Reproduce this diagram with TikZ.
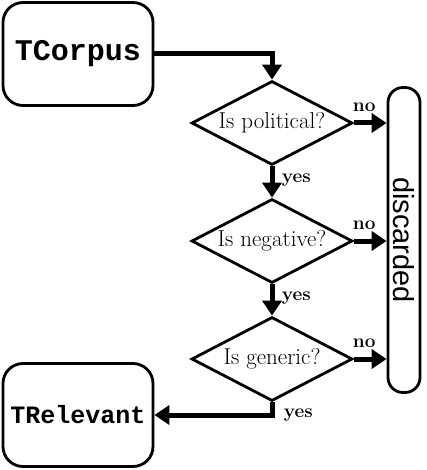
\documentclass[tikz,border=0pt]{standalone}
\usepackage{fontspec}
\setsansfont{Liberation Sans}
\setmonofont{Liberation Mono}
\usetikzlibrary{arrows.meta,shapes.geometric}

\begin{document}
\begin{tikzpicture}[x=1pt,y=-1pt,
  term/.style={draw, line width=2.8pt, rounded corners=20pt, minimum width=150pt,
    minimum height=103pt, font=\fontsize{30}{32}\selectfont\ttfamily\bfseries},
  test/.style={draw, diamond, aspect=1.9, line width=2.8pt, inner sep=0pt,
    minimum width=161pt, minimum height=84pt, font=\fontsize{23}{25}\selectfont},
  flow/.style={line width=5pt, -{Triangle[length=15pt, width=19pt]}},
  tag/.style={font=\fontsize{19}{21}\selectfont\bfseries}]
\useasboundingbox (0,0) rectangle (426,470);
\node[term] (corpus) at (78,54) {TCorpus};
\node[term, font=\fontsize{25}{28}\selectfont\ttfamily\bfseries] (relevant) at (78,415) {TRelevant};
\node[test] (pol) at (272,123) {Is political?};
\node[test] (neg) at (272,241) {Is negative?};
\node[test] (gen) at (272,359) {Is generic?};
\node[draw, line width=2.8pt, rounded corners=15pt, rotate=-90, minimum width=305pt,
  minimum height=32pt, inner sep=0pt, font=\fontsize{29}{31}\selectfont\sffamily] (disc) at (404,240) {discarded};
\draw[flow] (corpus.east) -| (pol.north);
\draw[flow] (pol.south) -- node[tag, right=4pt, pos=0.45] {yes} (neg.north);
\draw[flow] (neg.south) -- node[tag, right=4pt, pos=0.45] {yes} (gen.north);
\draw[flow] (gen.south) |- node[tag, right=6pt, pos=0.5] {yes} (relevant.east);
\draw[flow] (pol.east) -- node[tag, above=6pt, xshift=-6pt] {no} (pol.east -| disc.south);
\draw[flow] (neg.east) -- node[tag, above=6pt, xshift=-6pt] {no} (neg.east -| disc.south);
\draw[flow] (gen.east) -- node[tag, above=6pt, xshift=-6pt] {no} (gen.east -| disc.south);
\end{tikzpicture}
\end{document}
